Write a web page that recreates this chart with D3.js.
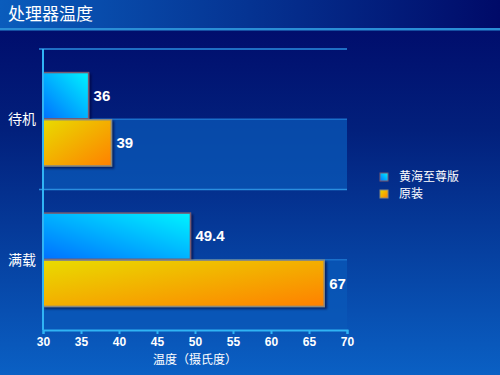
<!DOCTYPE html>
<html>
<head>
<meta charset="utf-8">
<script src="https://cdn.jsdelivr.net/npm/d3@7"></script>
<style>
  body { margin: 0; }
  svg { display: block; }
</style>
</head>
<body>
<div id="chart"></div>
<script>
// data
var categories = ['待机', '满载'];
var series_names = ['黄海至尊版', '原装'];
var huanghai_values = [36, 49.4];
var original_values = [39, 67];
var x_ticks = [30, 35, 40, 45, 50, 55, 60, 65, 70];

const width = 500, height = 375;
const plot_left = 43, plot_right = 347, plot_top = 49, plot_bottom = 330;

var svg = d3.select('#chart').append('svg')
  .attr('width', width)
  .attr('height', height)
  .style('font-family', '"Noto Sans CJK SC", sans-serif');

var defs = svg.append('defs');

// background gradients
var bg = defs.append('linearGradient').attr('id', 'bg')
  .attr('x1', 0).attr('y1', 0).attr('x2', 0).attr('y2', 1);
bg.append('stop').attr('offset', '0%').attr('stop-color', '#000868');
bg.append('stop').attr('offset', '35%').attr('stop-color', '#02207c');
bg.append('stop').attr('offset', '100%').attr('stop-color', '#0a60c4');

var title_bg = defs.append('linearGradient').attr('id', 'title_bg')
  .attr('x1', 0).attr('y1', 0).attr('x2', 1).attr('y2', 0);
title_bg.append('stop').attr('offset', '0%').attr('stop-color', '#0a5cbc');
title_bg.append('stop').attr('offset', '100%').attr('stop-color', '#000a68');

var blue_grad = defs.append('linearGradient').attr('id', 'blue_grad')
  .attr('x1', 0).attr('y1', 1).attr('x2', 1).attr('y2', 0);
blue_grad.append('stop').attr('offset', '0%').attr('stop-color', '#0070ff');
blue_grad.append('stop').attr('offset', '100%').attr('stop-color', '#00f4ff');

var orange_grad = defs.append('linearGradient').attr('id', 'orange_grad')
  .attr('x1', 0).attr('y1', 0).attr('x2', 1).attr('y2', 1);
orange_grad.append('stop').attr('offset', '0%').attr('stop-color', '#e8dc00');
orange_grad.append('stop').attr('offset', '100%').attr('stop-color', '#ff8000');

var shadow = defs.append('filter').attr('id', 'shadow')
  .attr('x', '-10%').attr('y', '-10%').attr('width', '130%').attr('height', '130%');
shadow.append('feDropShadow').attr('dx', 2).attr('dy', 2).attr('stdDeviation', 1.2)
  .attr('flood-color', '#000030').attr('flood-opacity', 0.6);

svg.append('rect').attr('width', width).attr('height', height).attr('fill', 'url(#bg)');
svg.append('rect').attr('width', width).attr('height', 28).attr('fill', 'url(#title_bg)');
svg.append('rect').attr('y', 28).attr('width', width).attr('height', 2.5).attr('fill', '#2a8ed6');

svg.append('text')
  .attr('x', 8).attr('y', 20)
  .attr('fill', 'white')
  .attr('font-size', 17)
  .text('处理器温度');

// scales
var x_scale = d3.scaleLinear().domain([30, 70]).range([plot_left, plot_right]);
var y_scale = d3.scaleBand().domain(categories).range([plot_top, plot_bottom]);
var bar_scale = d3.scaleBand().domain(series_names)
  .range([0, y_scale.bandwidth()]).paddingOuter(0.5).paddingInner(0.02);

// lighter bands behind the second series
var band_start = y_scale.bandwidth() / 2;
svg.selectAll('.band').data(categories).enter().append('rect')
  .attr('x', plot_left)
  .attr('y', d => y_scale(d) + band_start)
  .attr('width', plot_right - plot_left)
  .attr('height', y_scale.bandwidth() - band_start)
  .attr('fill', '#0a58b8')
  .attr('opacity', 0.75);

// gridlines at category borders and band tops
var grid_ys = [];
categories.forEach(function(c) {
  grid_ys.push({ y: y_scale(c), tick: true });
  grid_ys.push({ y: y_scale(c) + band_start, tick: false });
});
svg.selectAll('.grid').data(grid_ys).enter().append('line')
  .attr('x1', d => d.tick ? plot_left - 4 : plot_left)
  .attr('x2', plot_right)
  .attr('y1', d => d.y).attr('y2', d => d.y)
  .attr('stroke', d => d.tick ? '#2a8ee0' : '#1a70cc')
  .attr('stroke-width', 1.5);

// bars
var series = [
  { name: series_names[0], values: huanghai_values, fill: 'url(#blue_grad)', stroke: '#7a5a70' },
  { name: series_names[1], values: original_values, fill: 'url(#orange_grad)', stroke: '#8a8a80' }
];

series.forEach(function(s) {
  var g = svg.append('g');
  g.selectAll('rect').data(categories).enter().append('rect')
    .attr('x', x_scale(30))
    .attr('y', d => y_scale(d) + bar_scale(s.name))
    .attr('width', (d, i) => x_scale(s.values[i]) - x_scale(30))
    .attr('height', bar_scale.bandwidth())
    .attr('fill', s.fill)
    .attr('stroke', s.stroke)
    .attr('stroke-width', 1.5)
    .attr('filter', 'url(#shadow)');
  g.selectAll('text').data(categories).enter().append('text')
    .attr('x', (d, i) => x_scale(s.values[i]) + 5)
    .attr('y', d => y_scale(d) + bar_scale(s.name) + bar_scale.bandwidth() / 2)
    .attr('dy', '0.35em')
    .attr('fill', 'white')
    .attr('font-family', 'Arial, "Liberation Sans", sans-serif')
    .attr('font-weight', 'bold')
    .attr('font-size', 15)
    .text((d, i) => s.values[i]);
});

// axes
var x_axis = d3.axisBottom(x_scale).tickValues(x_ticks).tickSize(4).tickSizeOuter(4);
var xg = svg.append('g')
  .attr('transform', `translate(0,${plot_bottom})`)
  .call(x_axis);
xg.select('.domain').attr('stroke', '#30b4f4').attr('stroke-width', 2);
xg.selectAll('.tick line').attr('stroke', '#30b4f4').attr('stroke-width', 2);
xg.selectAll('.tick text')
  .attr('fill', 'white')
  .attr('font-family', 'Arial, "Liberation Sans", sans-serif')
  .attr('font-weight', 'bold')
  .attr('font-size', 12)
  .attr('dy', '0.75em');

svg.append('line')
  .attr('x1', plot_left).attr('x2', plot_left)
  .attr('y1', plot_top).attr('y2', plot_bottom)
  .attr('stroke', '#30b4f4').attr('stroke-width', 2);

// category labels
svg.selectAll('.cat').data(categories).enter().append('text')
  .attr('x', 22)
  .attr('y', d => y_scale(d) + y_scale.bandwidth() / 2)
  .attr('dy', '0.35em')
  .attr('text-anchor', 'middle')
  .attr('fill', 'white')
  .attr('font-size', 14)
  .text(d => d);

svg.append('text')
  .attr('x', 195).attr('y', 364)
  .attr('text-anchor', 'middle')
  .attr('fill', 'white')
  .attr('font-size', 12)
  .text('温度（摄氏度）');

// legend
var legend = svg.append('g').attr('transform', 'translate(380,177)');
series.forEach(function(s, i) {
  legend.append('rect')
    .attr('x', 0).attr('y', i * 17 - 4)
    .attr('width', 8).attr('height', 8)
    .attr('fill', s.fill)
    .attr('stroke', s.stroke)
    .attr('stroke-width', 1);
  legend.append('text')
    .attr('x', 19).attr('y', i * 17)
    .attr('dy', '0.35em')
    .attr('fill', 'white')
    .attr('font-size', 12)
    .text(s.name);
});
</script>
</body>
</html>
